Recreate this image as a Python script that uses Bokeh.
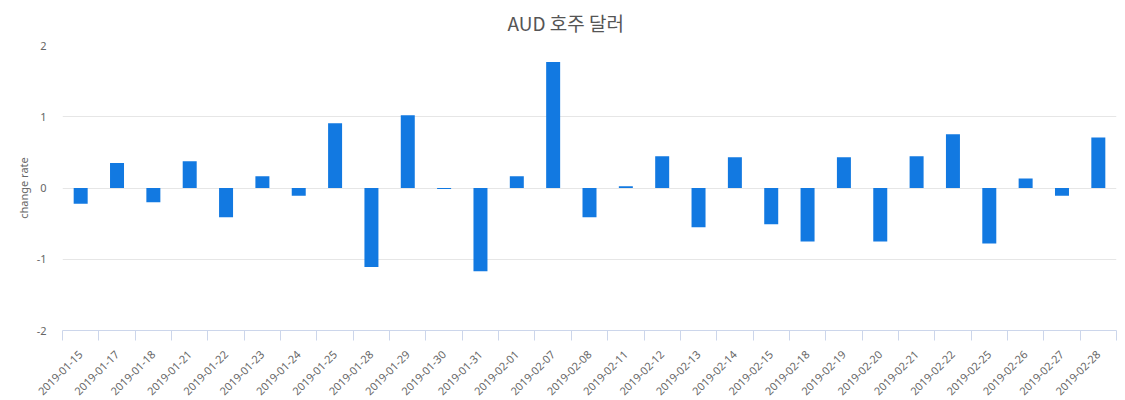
import numpy as np
from bokeh.plotting import figure
from bokeh.models import Range1d, FixedTicker
from bokeh.embed import file_html
from bokeh.resources import INLINE

title_text = "AUD 호주 달러"
y_label = "change rate"
categories = ["2019-01-15", "2019-01-17", "2019-01-18", "2019-01-21", "2019-01-22",
              "2019-01-23", "2019-01-24", "2019-01-25", "2019-01-28", "2019-01-29",
              "2019-01-30", "2019-01-31", "2019-02-01", "2019-02-07", "2019-02-08",
              "2019-02-11", "2019-02-12", "2019-02-13", "2019-02-14", "2019-02-15",
              "2019-02-18", "2019-02-19", "2019-02-20", "2019-02-21", "2019-02-22",
              "2019-02-25", "2019-02-26", "2019-02-27", "2019-02-28"]
values = [-0.22, 0.35, -0.20, 0.375, -0.41, 0.165, -0.11, 0.91, -1.11, 1.02,
          -0.015, -1.17, 0.165, 1.77, -0.41, 0.025, 0.445, -0.55, 0.43, -0.51,
          -0.75, 0.43, -0.75, 0.445, 0.755, -0.78, 0.135, -0.11, 0.71]
y_ticks = [-2, -1, 0, 1, 2]

n = len(categories)
idx = list(range(n))
bounds = [i - 0.5 for i in range(n + 1)]

p = figure(frame_width=1054, frame_height=285, output_backend="svg", toolbar_location=None,
           x_range=Range1d(-0.5, n - 0.5), y_range=Range1d(-2, 2),
           min_border_left=5, min_border_right=1, min_border_top=5, min_border_bottom=40)
p.margin = (0, 0, 0, 12)
p.outline_line_color = None
p.background_fill_color = "white"
p.border_fill_color = "white"

p.vbar(x=idx, top=values, bottom=0, width=0.385, color="#1279e1", line_color=None)

p.title.text = title_text
p.title.text_font = "Noto Sans CJK KR"
p.title.text_font_size = "19px"
p.title.text_font_style = "normal"
p.title.text_color = "#555555"
p.title.align = "left"
p.title.offset = 445
p.title.standoff = 16
p.title.vertical_align = "top"

# x axis
xa = p.xaxis[0]
xa.ticker = FixedTicker(ticks=idx, minor_ticks=bounds)
xa.major_label_overrides = {i: c for i, c in zip(idx, categories)}
xa.major_label_orientation = np.pi / 4
xa.major_label_text_font = "Noto Sans"
xa.major_label_text_font_size = "11px"
xa.major_label_text_color = "#666666"
xa.major_tick_out = 0
xa.major_tick_in = 0
xa.minor_tick_out = 10
xa.minor_tick_in = 0
xa.minor_tick_line_color = "#ccd6eb"
xa.axis_line_color = "#ccd6eb"
xa.major_label_standoff = 12

# y axis
ya = p.yaxis[0]
ya.ticker = FixedTicker(ticks=y_ticks, minor_ticks=[])
ya.major_label_overrides = {t: str(t) for t in y_ticks}
ya.axis_line_color = None
ya.major_tick_line_color = None
ya.minor_tick_line_color = None
ya.major_label_standoff = 10
ya.major_label_text_font = "Noto Sans"
ya.major_label_text_font_size = "11px"
ya.major_label_text_color = "#666666"
ya.axis_label = y_label
ya.axis_label_text_font = "Noto Sans"
ya.axis_label_text_font_size = "11px"
ya.axis_label_text_font_style = "normal"
ya.axis_label_text_color = "#666666"
ya.axis_label_standoff = 3

p.xgrid.grid_line_color = None
p.ygrid.grid_line_color = "#e6e6e6"
p.ygrid.ticker = FixedTicker(ticks=y_ticks)

open("out.html", "w").write(file_html(p, INLINE))
